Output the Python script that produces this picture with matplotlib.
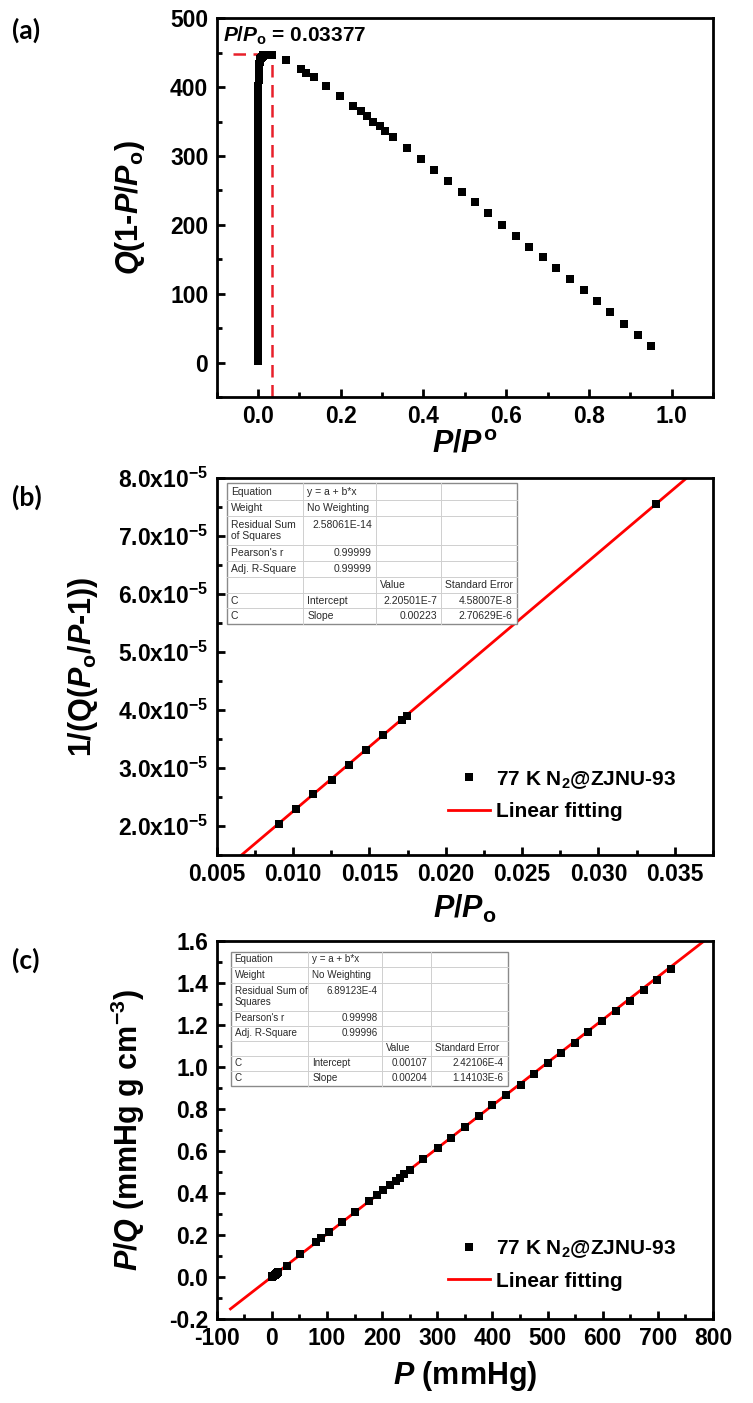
import matplotlib
matplotlib.use('Agg')
import matplotlib.pyplot as plt
from matplotlib.ticker import MultipleLocator, FuncFormatter
from matplotlib.patches import Rectangle

plt.rcParams.update({
    'font.family': ['Liberation Sans', 'DejaVu Sans'],
    'font.weight': 'bold',
    'axes.labelweight': 'bold',
    'mathtext.fontset': 'custom',
    'mathtext.rm': 'Liberation Sans:bold',
    'mathtext.it': 'Liberation Sans:bold:italic',
    'mathtext.bf': 'Liberation Sans:bold',
    'mathtext.sf': 'Liberation Sans:bold',
    'axes.unicode_minus': False,
})

# ---------------- data ----------------
# panel (a): Q(1-P/Po) vs P/Po
a_ppo_low = [0.00001, 0.00001, 0.00002, 0.00002, 0.00003, 0.00003, 0.00004, 0.00004,
             0.00005, 0.00005, 0.00006, 0.00007, 0.00008, 0.00009, 0.0001, 0.00011,
             0.00012, 0.00013, 0.00014, 0.00015, 0.00016, 0.00018, 0.0002, 0.00022,
             0.00024, 0.00026, 0.00028, 0.0003, 0.00033, 0.00036, 0.0004, 0.00044,
             0.00048, 0.00053, 0.00058, 0.00064, 0.0007, 0.00077, 0.00085, 0.00094,
             0.001, 0.0011]
a_q_low = [2, 12, 22, 32, 42, 52, 62, 72, 82, 92, 102, 112, 122, 132, 142, 152,
           162, 172, 182, 192, 202, 212, 222, 232, 242, 252, 262, 272, 282, 292,
           302, 312, 322, 332, 342, 352, 362, 372, 382, 392, 402, 410]
a_ppo_mid = [0.0013, 0.0016, 0.002, 0.0025, 0.003, 0.0037, 0.0045, 0.0055, 0.0066, 0.0078,
             0.00906, 0.01022, 0.01131, 0.01252, 0.01367, 0.01477, 0.01591, 0.01711,
             0.01744, 0.03378]
a_q_mid = [418, 422, 427, 431, 434, 437, 439, 441, 442, 443,
           444, 444, 445, 446, 446, 446, 446, 447, 447, 447]
a_ppo_high = [0.067, 0.103, 0.117, 0.135, 0.164, 0.198, 0.230, 0.248, 0.263, 0.279,
              0.295, 0.307, 0.327, 0.361, 0.393, 0.426, 0.459, 0.492, 0.525, 0.557,
              0.590, 0.623, 0.656, 0.688, 0.721, 0.754, 0.787, 0.820, 0.852, 0.885,
              0.918, 0.951]
a_q_high = [440, 427, 421, 415, 401, 387, 372, 365, 358, 350,
            343, 337, 327, 312, 296, 280, 264, 248, 233, 217,
            200, 184, 168, 153, 137, 121, 105, 89, 73, 56,
            40, 24]
a_ppo_max = 0.03377
a_q_max = 448
a_annot = '$P/P_{\\rm o}$ = 0.03377'

# panel (b): BET plot
b_x = [0.00906, 0.01022, 0.01131, 0.01252, 0.01367, 0.01477, 0.01591, 0.01711, 0.01744, 0.03378]
b_y = [2.04e-5, 2.30e-5, 2.545e-5, 2.80e-5, 3.06e-5, 3.31e-5, 3.565e-5, 3.82e-5, 3.89e-5, 7.556e-5]
b_intercept = 2.20501e-7
b_slope = 0.00223
b_table = [
    ["Equation", "y = a + b*x", "", ""],
    ["Weight", "No Weighting", "", ""],
    ["Residual Sum\nof Squares", "2.58061E-14", "", ""],
    ["Pearson's r", "0.99999", "", ""],
    ["Adj. R-Square", "0.99999", "", ""],
    ["", "", "Value", "Standard Error"],
    ["C", "Intercept", "2.20501E-7", "4.58007E-8"],
    ["C", "Slope", "0.00223", "2.70629E-6"],
]

# panel (c): Langmuir plot
c_x = [0.5, 1, 2, 3, 5, 7, 9, 12, 27, 51, 80, 89, 104, 127, 151, 177, 190, 201, 215,
       225, 232, 240, 251, 275, 301, 325, 350, 376, 400, 425, 451, 475, 500, 524,
       550, 574, 599, 624, 649, 674, 699, 724]
c_y = [0.002, 0.003, 0.005, 0.007, 0.011, 0.015, 0.019, 0.025, 0.054, 0.109, 0.166,
       0.184, 0.212, 0.260, 0.310, 0.364, 0.391, 0.415, 0.439, 0.459, 0.473, 0.489,
       0.510, 0.562, 0.613, 0.664, 0.716, 0.765, 0.817, 0.865, 0.915, 0.966, 1.017,
       1.067, 1.116, 1.166, 1.218, 1.265, 1.314, 1.365, 1.416, 1.465]
c_intercept = 0.00107
c_slope = 0.00204
c_table = [
    ["Equation", "y = a + b*x", "", ""],
    ["Weight", "No Weighting", "", ""],
    ["Residual Sum of\nSquares", "6.89123E-4", "", ""],
    ["Pearson's r", "0.99998", "", ""],
    ["Adj. R-Square", "0.99996", "", ""],
    ["", "", "Value", "Standard Error"],
    ["C", "Intercept", "0.00107", "2.42106E-4"],
    ["C", "Slope", "0.00204", "1.14103E-6"],
]

legend_pts = '77 K N$_2$@ZJNU-93'
legend_fit = 'Linear fitting'

# ---------------- figure ----------------
W, H = 753, 1403
fig = plt.figure(figsize=(W / 100, H / 100), dpi=100)


def px_axes(left, top, right, bottom):
    return fig.add_axes([left / W, 1 - bottom / H, (right - left) / W, (bottom - top) / H])


def style(ax):
    for s in ax.spines.values():
        s.set_linewidth(2)
    ax.tick_params(which='both', direction='in', top=False, right=False, width=2,
                   labelsize=16.5, pad=6)
    ax.tick_params(which='major', length=6)
    ax.tick_params(which='minor', length=3.6)


LBL = 22

# ---- (a)
axa = px_axes(216.7, 18.3, 713, 397)
style(axa)
axa.plot([a_ppo_max, a_ppo_max], [-50, a_q_max], color='#e8202a', lw=1.8, dashes=(5, 3), zorder=1)
axa.plot([-0.06, a_ppo_max], [a_q_max, a_q_max], color='#e8202a', lw=1.8, dashes=(5, 3), zorder=1)
for xs, ys in [(a_ppo_low, a_q_low), (a_ppo_mid, a_q_mid), (a_ppo_high, a_q_high)]:
    axa.plot(xs, ys, 's', color='black', ms=5.2, mew=0, zorder=2)
axa.set_xlim(-0.1, 1.1)
axa.set_ylim(-50, 500)
axa.xaxis.set_major_locator(MultipleLocator(0.2))
axa.xaxis.set_minor_locator(MultipleLocator(0.1))
axa.yaxis.set_major_locator(MultipleLocator(100))
axa.yaxis.set_minor_locator(MultipleLocator(50))
axa.xaxis.set_major_formatter(FuncFormatter(lambda v, p: f'{v:.1f}'))
axa.yaxis.set_major_formatter(FuncFormatter(lambda v, p: f'{v:.0f}'))
axa.text(-0.085, 466, a_annot, fontsize=15, fontweight='bold', va='baseline', ha='left')
axa.set_xlabel('$P/P^{\\rm o}$', fontsize=LBL)
axa.set_ylabel('$Q$(1-$P/P_{\\rm o}$)', fontsize=LBL)
axa.xaxis.set_label_coords(0.5, -0.085)
axa.yaxis.set_label_coords(-0.14, 0.5)

# ---- (b)
axb = px_axes(216.7, 478, 713, 855)
style(axb)
bx_line = [0.005, 0.0375]
axb.plot(bx_line, [b_intercept + b_slope * v for v in bx_line], color='red', lw=2, zorder=1,
         label=legend_fit)
axb.plot(b_x, b_y, 's', color='black', ms=6, mew=0, zorder=2, label=legend_pts)
axb.set_xlim(0.005, 0.0375)
axb.set_ylim(1.5e-5, 8.0e-5)
axb.xaxis.set_major_locator(MultipleLocator(0.005))
axb.xaxis.set_minor_locator(MultipleLocator(0.0025))
axb.yaxis.set_major_locator(MultipleLocator(1e-5))
axb.yaxis.set_minor_locator(MultipleLocator(0.5e-5))
axb.xaxis.set_major_formatter(FuncFormatter(lambda v, p: f'{v:.3f}'))
axb.yaxis.set_major_formatter(FuncFormatter(lambda v, p: '$%.1f$x$10^{-5}$' % (v * 1e5)))
axb.set_xlabel('$P/P_{\\rm o}$', fontsize=LBL)
axb.set_ylabel('1/(Q($P_{\\rm o}$/$P$-1))', fontsize=LBL)
axb.xaxis.set_label_coords(0.5, -0.10)
axb.yaxis.set_label_coords(-0.235, 0.5)
hb, lb = axb.get_legend_handles_labels()
axb.legend(hb[::-1], lb[::-1], loc='lower left', bbox_to_anchor=(0.466, 0.09), frameon=False,
           handlelength=2.0, handletextpad=0.3, labelspacing=0.55,
           borderpad=0, borderaxespad=0, prop={'weight': 'bold', 'size': 15})

# ---- (c)
axc = px_axes(216.7, 941, 713, 1319)
style(axc)
cx_line = [-75, 800]
axc.plot(cx_line, [c_intercept + c_slope * v for v in cx_line], color='red', lw=2, zorder=1,
         label=legend_fit)
axc.plot(c_x, c_y, 's', color='black', ms=5.5, mew=0, zorder=2, label=legend_pts)
axc.set_xlim(-100, 800)
axc.set_ylim(-0.2, 1.6)
axc.xaxis.set_major_locator(MultipleLocator(100))
axc.xaxis.set_minor_locator(MultipleLocator(50))
axc.yaxis.set_major_locator(MultipleLocator(0.2))
axc.yaxis.set_minor_locator(MultipleLocator(0.1))
axc.xaxis.set_major_formatter(FuncFormatter(lambda v, p: f'{v:.0f}'))
axc.yaxis.set_major_formatter(FuncFormatter(lambda v, p: f'{v:.1f}'))
axc.set_xlabel('$P$ (mmHg)', fontsize=LBL)
axc.set_ylabel('$P/Q$ (mmHg g cm$^{-3}$)', fontsize=LBL)
axc.xaxis.set_label_coords(0.5, -0.105)
axc.yaxis.set_label_coords(-0.14, 0.5)
hc, lc = axc.get_legend_handles_labels()
axc.legend(hc[::-1], lc[::-1], loc='lower left', bbox_to_anchor=(0.466, 0.075), frameon=False,
           handlelength=2.0, handletextpad=0.3, labelspacing=0.55,
           borderpad=0, borderaxespad=0, prop={'weight': 'bold', 'size': 15})

# ---- overlay for tables and panel labels
ov = fig.add_axes([0, 0, 1, 1], zorder=10)
ov.set_xlim(0, W)
ov.set_ylim(H, 0)
ov.axis('off')
ov.patch.set_visible(False)

ALIGN = [
    ['l', 'l', 'l', 'l'],
    ['l', 'l', 'l', 'l'],
    ['l', 'r', 'l', 'l'],
    ['l', 'r', 'l', 'l'],
    ['l', 'r', 'l', 'l'],
    ['l', 'l', 'l', 'l'],
    ['l', 'l', 'r', 'r'],
    ['l', 'l', 'r', 'r'],
]


def draw_table(rows, cols, rowe, fs):
    ov.add_patch(Rectangle((cols[0], rowe[0]), cols[-1] - cols[0], rowe[-1] - rowe[0],
                           facecolor='white', edgecolor='#8a8a8a', lw=1.0, zorder=1))
    for y in rowe[1:-1]:
        ov.plot([cols[0], cols[-1]], [y, y], color='#cfcfcf', lw=0.7, zorder=2)
    for x in cols[1:-1]:
        ov.plot([x, x], [rowe[0], rowe[-1]], color='#cfcfcf', lw=0.7, zorder=2)
    pad = 4
    for i, row in enumerate(rows):
        top, bot = rowe[i], rowe[i + 1]
        for j, txt in enumerate(row):
            if not txt:
                continue
            al = ALIGN[i][j]
            x = cols[j] + pad if al == 'l' else cols[j + 1] - pad
            if '\n' in txt or i != 2:
                y = (top + bot) / 2
            else:
                y = top + 8.5
            ov.text(x, y, txt, ha='left' if al == 'l' else 'right', va='center',
                    fontsize=fs, fontweight='normal', color='#2a2a2a', zorder=3,
                    linespacing=1.15)


draw_table(b_table, [226.7, 303.3, 376, 441, 516.7],
           [483.3, 500, 516, 545, 560.7, 576.7, 592.7, 608.3, 624.3], 7.5)
draw_table(c_table, [230.7, 308.3, 381.7, 431, 507.7],
           [951.7, 967.3, 982.7, 1010.7, 1026, 1040.7, 1055.7, 1070.7, 1086], 7.1)

for lab, (x, y) in zip(['(a)', '(b)', '(c)'], [(12, 30), (12, 497), (12, 960)]):
    ov.text(x, y, lab, fontsize=19, fontweight='bold', family=['Lato', 'DejaVu Sans'],
            ha='left', va='center')

fig.savefig('out.png', dpi=100, facecolor='white')
